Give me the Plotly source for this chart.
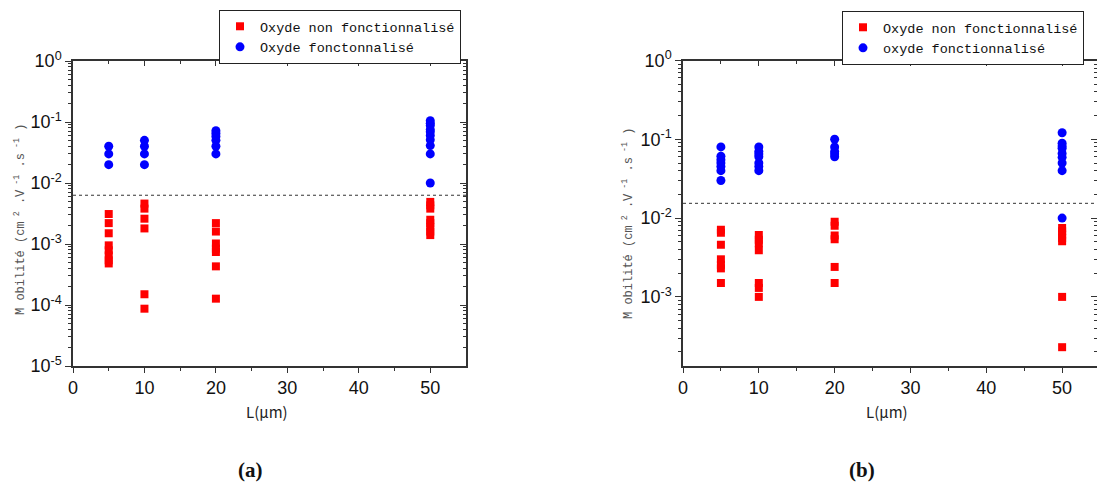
import plotly.graph_objects as go

# ---------------- data ----------------
# Panel (a)
a_red_x = [5]*8 + [10]*6 + [20]*7 + [50]*8
a_red_y = [0.0031, 0.0022, 0.0015, 0.00095, 0.00079, 0.00065, 0.00054, 0.00048,
           0.0046, 0.0038, 0.0026, 0.0018, 0.00015, 0.000087,
           0.0022, 0.0016, 0.00102, 0.00084, 0.00074, 0.00043, 0.000127,
           0.0049, 0.0043, 0.0038, 0.0025, 0.0022, 0.0019, 0.0016, 0.0014]
a_blue_x = [5]*3 + [10]*4 + [20]*6 + [50]*10
a_blue_y = [0.04, 0.03, 0.02,
            0.05, 0.04, 0.03, 0.02,
            0.072, 0.065, 0.058, 0.05, 0.04, 0.03,
            0.105, 0.095, 0.088, 0.075, 0.069, 0.06, 0.051, 0.041, 0.03, 0.01]
a_threshold = 0.0063

# Panel (b)
b_red_x = [5]*7 + [10]*7 + [20]*6 + [50]*7
b_red_y = [0.0071, 0.0065, 0.0046, 0.0030, 0.00255, 0.0023, 0.0015,
           0.0061, 0.0053, 0.0048, 0.0039, 0.0015, 0.0013, 0.001,
           0.009, 0.008, 0.006, 0.0054, 0.0024, 0.0015,
           0.0075, 0.0068, 0.0062, 0.0056, 0.0051, 0.001, 0.00023]
b_blue_x = [5]*7 + [10]*7 + [20]*5 + [50]*9
b_blue_y = [0.08, 0.061, 0.055, 0.05, 0.045, 0.04, 0.03,
            0.08, 0.07, 0.065, 0.06, 0.05, 0.045, 0.04,
            0.1, 0.08, 0.07, 0.065, 0.06,
            0.121, 0.089, 0.082, 0.077, 0.066, 0.059, 0.05, 0.04, 0.01]
b_threshold = 0.0154

x_ticks = [0, 10, 20, 30, 40, 50]
x_minor = [5, 15, 25, 35, 45]
a_yticks = [1e-5, 1e-4, 1e-3, 1e-2, 1e-1, 1]
a_yticktext = ["10<sup>-5</sup>", "10<sup>-4</sup>", "10<sup>-3</sup>",
               "10<sup>-2</sup>", "10<sup>-1</sup>", "10<sup>0</sup>"]
b_yticks = [1e-3, 1e-2, 1e-1, 1]
b_yticktext = ["10<sup>-3</sup>", "10<sup>-2</sup>", "10<sup>-1</sup>", "10<sup>0</sup>"]

legend_a = ["Oxyde non fonctionnalisé", "Oxyde fonctonnalisé"]
legend_b = ["Oxyde non fonctionnalisé", "oxyde fonctionnalisé"]
ytitle = "M obilité (cm<sup> 2</sup> .V<sup> -1</sup> .s<sup> -1</sup> )"
xtitle = "L(μm)"

minor_log = [m * 10.0**e for e in range(-6, 1) for m in range(2, 10)]

RED = "#ff0000"
BLUE = "#0000ff"
AX = "#333333"
W, H = 1097, 488

fig = go.Figure()

def px(v):
    return v / W

def py(v):
    return 1 - v / H

# ---------- traces ----------
fig.add_trace(go.Scatter(x=a_red_x, y=a_red_y, mode="markers", name=legend_a[0],
                         marker=dict(symbol="square", size=8, color=RED),
                         xaxis="x", yaxis="y", legend="legend"))
fig.add_trace(go.Scatter(x=a_blue_x, y=a_blue_y, mode="markers", name=legend_a[1],
                         marker=dict(symbol="circle", size=9, color=BLUE),
                         xaxis="x", yaxis="y", legend="legend"))
fig.add_trace(go.Scatter(x=[0, 55], y=[a_threshold, a_threshold], mode="lines",
                         line=dict(color=AX, width=1, dash="dot"), showlegend=False,
                         xaxis="x", yaxis="y", hoverinfo="skip"))

fig.add_trace(go.Scatter(x=b_red_x, y=b_red_y, mode="markers", name=legend_b[0],
                         marker=dict(symbol="square", size=8, color=RED),
                         xaxis="x2", yaxis="y2", legend="legend2"))
fig.add_trace(go.Scatter(x=b_blue_x, y=b_blue_y, mode="markers", name=legend_b[1],
                         marker=dict(symbol="circle", size=9, color=BLUE),
                         xaxis="x2", yaxis="y2", legend="legend2"))
fig.add_trace(go.Scatter(x=[0, 55], y=[b_threshold, b_threshold], mode="lines",
                         line=dict(color=AX, width=1, dash="dot"), showlegend=False,
                         xaxis="x2", yaxis="y2", hoverinfo="skip"))

# invisible traces for overlay (inside mirror tick) axes
fig.add_trace(go.Scatter(x=[], y=[], xaxis="x3", yaxis="y3", showlegend=False))
fig.add_trace(go.Scatter(x=[], y=[], xaxis="x4", yaxis="y4", showlegend=False))

tickfont = dict(family="Liberation Sans Narrow, Liberation Sans, Arial, sans-serif",
                size=18, color="#111")

xa_dom = [px(73), px(466)]
xb_dom = [px(683), 1.0]
ya_dom = [py(366), py(61)]
yb_dom = [py(366), py(60.5)]
a_xrange = [0, 55]
b_xrange = [0, 54.6]
a_yrange = [-5, 0]
b_yrange = [-3.877, 0]

def xaxis(dom, rng, anchor):
    return dict(domain=dom, range=rng, anchor=anchor, tickmode="array", tickvals=x_ticks,
                ticks="outside", ticklen=5, tickwidth=1.2, tickcolor=AX,
                minor=dict(tickmode="array", tickvals=x_minor, ticks="outside", ticklen=3,
                           tickcolor=AX, tickwidth=1.2),
                showline=True, linecolor=AX, linewidth=1.5, mirror=True,
                showgrid=False, zeroline=False, tickfont=tickfont, fixedrange=True,
                automargin=False)

def yaxis(dom, rng, anchor, tv, tt):
    return dict(domain=dom, range=rng, type="log", anchor=anchor, tickmode="array",
                tickvals=tv, ticktext=tt, ticks="outside", ticklen=6, tickwidth=1.2,
                tickcolor=AX,
                minor=dict(tickmode="array", tickvals=minor_log, ticks="outside", ticklen=3,
                           tickcolor=AX, tickwidth=1),
                showline=True, linecolor=AX, linewidth=1.5, mirror=True,
                showgrid=False, zeroline=False, tickfont=tickfont, fixedrange=True,
                automargin=False)

def xover(rng, over, anchor):
    return dict(range=rng, overlaying=over, side="top", anchor=anchor, tickmode="array",
                tickvals=x_ticks, ticks="inside", ticklen=5, tickcolor=AX, tickwidth=1.2,
                minor=dict(tickmode="array", tickvals=x_minor, ticks="inside", ticklen=3,
                           tickcolor=AX, tickwidth=1.2),
                showticklabels=False, showgrid=False, zeroline=False, showline=False,
                fixedrange=True, automargin=False)

def yover(rng, over, anchor, tv):
    return dict(range=rng, type="log", overlaying=over, side="right", anchor=anchor,
                tickmode="array", tickvals=tv, ticks="inside", ticklen=6, tickcolor=AX,
                tickwidth=1.2,
                minor=dict(tickmode="array", tickvals=minor_log, ticks="inside", ticklen=3,
                           tickcolor=AX, tickwidth=1),
                showticklabels=False, showgrid=False, zeroline=False, showline=False,
                fixedrange=True, automargin=False)

legfont = dict(family="Liberation Mono, monospace", size=13.5, color="#111")

fig.update_layout(
    width=W, height=H, margin=dict(l=0, r=0, t=0, b=0, pad=0, autoexpand=False),
    paper_bgcolor="white", plot_bgcolor="white",
    xaxis=xaxis(xa_dom, a_xrange, "y"),
    yaxis=yaxis(ya_dom, a_yrange, "x", a_yticks, a_yticktext),
    xaxis2=xaxis(xb_dom, b_xrange, "y2"),
    yaxis2=yaxis(yb_dom, b_yrange, "x2", b_yticks, b_yticktext),
    xaxis3=xover(a_xrange, "x", "y3"),
    yaxis3=yover(a_yrange, "y", "x3", a_yticks),
    xaxis4=xover(b_xrange, "x2", "y4"),
    yaxis4=yover(b_yrange, "y2", "x4", b_yticks),
    legend=dict(x=px(219), y=py(10), xanchor="left", yanchor="top",
                bordercolor="#222", borderwidth=1, bgcolor="white", font=legfont,
                tracegroupgap=0),
    legend2=dict(x=px(842), y=py(11), xanchor="left", yanchor="top",
                 bordercolor="#222", borderwidth=1, bgcolor="white", font=legfont,
                 tracegroupgap=0),
    showlegend=True,
)

ytfont = dict(family="Liberation Mono, monospace", size=12, color="#555")
xtfont = dict(family="Noto Sans CJK JP, sans-serif", size=15, color="#222")
labfont = dict(family="Liberation Serif, Times New Roman, serif", size=21, color="#111")

annots = [
    dict(text=ytitle, x=px(20), y=py(220), textangle=-90, font=ytfont),
    dict(text=ytitle, x=px(628), y=py(224), textangle=-90, font=ytfont),
    dict(text=xtitle, x=px(267), y=py(411), font=xtfont),
    dict(text=xtitle, x=px(887), y=py(411), font=xtfont),
    dict(text="<b>(a)</b>", x=px(250), y=py(470), font=labfont),
    dict(text="<b>(b)</b>", x=px(862), y=py(470), font=labfont),
]
for a in annots:
    fig.add_annotation(xref="paper", yref="paper", showarrow=False,
                       xanchor="center", yanchor="middle", **a)

fig.write_html("out.html", config={"displayModeBar": False},
               post_script="document.body.style.margin='0';document.body.style.padding='0';")
